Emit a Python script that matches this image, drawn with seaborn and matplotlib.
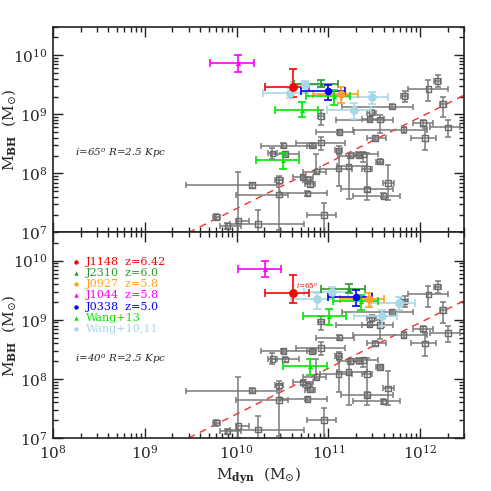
import numpy as np
import matplotlib
matplotlib.use("Agg")
import matplotlib.pyplot as plt
import seaborn as sns
from matplotlib.ticker import LogLocator, LogFormatterMathtext, NullFormatter

# local galaxies: log10 Mdyn, log10 MBH and errors (dex, minus / plus)
gray_lx = [12.19, 12.09, 12.25, 11.83, 11.69, 11.47, 10.92, 11.45, 11.56, 12.03,
           12.30, 11.82, 11.12, 11.51, 12.05, 10.92, 10.51, 10.82, 11.11, 10.39,
           10.53, 11.38, 11.24, 11.33, 11.56, 11.22, 11.11, 11.42, 10.87, 11.65,
           11.42, 11.60, 10.72, 10.77, 10.80, 10.46, 10.46, 10.77, 10.17, 10.95,
           10.23, 9.78, 9.90, 10.02]
gray_ly = [9.56, 9.43, 9.17, 9.31, 9.13, 9.03, 8.97, 8.92, 8.91, 8.85,
           8.78, 8.74, 8.70, 8.60, 8.60, 8.52, 8.47, 8.47, 8.39, 8.34,
           8.33, 8.32, 8.30, 8.31, 8.20, 8.12, 8.08, 8.08, 8.03, 7.84,
           7.73, 7.62, 7.94, 7.89, 7.82, 7.89, 7.64, 7.66, 7.80, 7.30,
           7.14, 7.26, 7.11, 7.20]
gray_xm = [0.04, 0.22, 0.03, 0.04, 0.54, 0.05, 0.03, 0.08, 0.48, 0.11,
           0.19, 0.55, 0.26, 0.09, 0.15, 0.27, 0.24, 0.05, 0.04, 0.05,
           0.15, 0.08, 0.14, 0.05, 0.04, 0.13, 0.20, 0.05, 0.15, 0.06,
           0.28, 0.33, 0.11, 0.05, 0.05, 0.04, 0.47, 0.30, 0.72, 0.18,
           0.30, 0.04, 0.08, 0.03]
gray_xp = [0.04, 0.21, 0.03, 0.04, 0.23, 0.05, 0.03, 0.16, 0.14, 0.11,
           0.13, 0.25, 0.16, 0.12, 0.12, 0.26, 0.32, 0.05, 0.04, 0.05,
           0.15, 0.16, 0.14, 0.05, 0.04, 0.20, 0.15, 0.05, 0.10, 0.06,
           0.28, 0.18, 0.11, 0.05, 0.05, 0.04, 0.10, 0.22, 0.27, 0.13,
           0.50, 0.04, 0.15, 0.12]
gray_ym = [0.10, 0.21, 0.22, 0.10, 0.04, 0.05, 0.15, 0.04, 0.23, 0.05,
           0.16, 0.05, 0.04, 0.04, 0.21, 0.12, 0.04, 0.04, 0.07, 0.09,
           0.04, 0.12, 0.04, 0.05, 0.04, 0.56, 0.30, 0.53, 0.04, 0.29,
           0.04, 0.04, 0.04, 0.05, 0.05, 0.07, 0.60, 0.04, 0.04, 0.31,
           0.16, 0.05, 0.05, 0.20]
gray_yp = [0.10, 0.15, 0.13, 0.09, 0.04, 0.05, 0.10, 0.04, 0.08, 0.05,
           0.12, 0.05, 0.04, 0.04, 0.17, 0.10, 0.04, 0.04, 0.07, 0.09,
           0.04, 0.04, 0.04, 0.05, 0.04, 0.17, 0.29, 0.27, 0.30, 0.30,
           0.04, 0.04, 0.04, 0.05, 0.05, 0.07, 0.25, 0.04, 0.04, 0.20,
           0.24, 0.05, 0.05, 0.83]

# high-z quasars
src_names = ["J1148", "J2310", "J0927", "J1044", "J0338", "Wang+13", "Wang+10,11"]
src_labels = ["J1148  z=6.42", "J2310  z=6.0", "J0927  z=5.8", "J1044  z=5.8",
              "J0338  z=5.0", "Wang+13", "Wang+10,11"]
src_colors = ["#ff0000", "#2a9a2a", "#ffa020", "#ff00ff", "#0000ff", "#00e600", "#a8d8e8"]
src_markers = ["o", "^", "o", "^", "o", "^", "o"]
src_sizes = [40, 14, 34, 14, 30, 14, 40]

qso_src = ["Wang+10,11", "Wang+10,11", "Wang+10,11", "Wang+10,11",
           "J1148", "J2310", "J0927", "J1044", "J0338",
           "Wang+13", "Wang+13", "Wang+13"]

# i = 65 deg
top_lx = [10.58, 10.74, 11.47, 11.28, 10.615, 10.92, 11.14, 10.01, 11.00, 11.06, 10.71, 10.51]
top_ly = [9.36, 9.50, 9.29, 9.08, 9.47, 9.52, 9.35, 9.86, 9.39, 9.31, 9.08, 8.23]
top_xm = [0.29, 0.15, 0.32, 0.30, 0.305, 0.29, 0.31, 0.30, 0.30, 0.30, 0.29, 0.30]
top_xp = [0.20, 0.15, 0.18, 0.18, 0.175, 0.18, 0.18, 0.18, 0.18, 0.175, 0.18, 0.17]
top_ym = [0.08, 0.05, 0.11, 0.16, 0.18, 0.06, 0.16, 0.14, 0.14, 0.15, 0.13, 0.16]
top_yp = [0.09, 0.06, 0.08, 0.11, 0.30, 0.06, 0.11, 0.15, 0.10, 0.10, 0.12, 0.11]

# i = 40 deg
bot_lx = [11.035, 10.88, 11.77, 11.58, 10.615, 11.22, 11.44, 10.31, 11.30, 11.36, 11.01, 10.80]
bot_ly = [9.47, 9.35, 9.28, 9.07, 9.46, 9.52, 9.35, 9.86, 9.39, 9.31, 9.07, 8.22]
bot_xm = [0.30, 0.29, 0.31, 0.30, 0.305, 0.30, 0.31, 0.30, 0.30, 0.31, 0.29, 0.29]
bot_xp = [0.18, 0.18, 0.17, 0.17, 0.175, 0.18, 0.17, 0.17, 0.17, 0.18, 0.18, 0.18]
bot_ym = [0.07, 0.17, 0.12, 0.18, 0.17, 0.06, 0.14, 0.14, 0.15, 0.14, 0.15, 0.15]
bot_yp = [0.08, 0.11, 0.11, 0.10, 0.30, 0.08, 0.10, 0.14, 0.11, 0.11, 0.11, 0.11]

# local relation (red dashed)
rel_x = [3e9, 3e12]
rel_y = [1e7, 2.1e9]

sns.set_theme(style="ticks")
plt.rcParams["font.family"] = ["DejaVu Serif"]
plt.rcParams["mathtext.fontset"] = "dejavuserif"


def errs(v, m, p):
    v, m, p = np.array(v), np.array(m), np.array(p)
    return [10**v - 10**(v - m), 10**(v + p) - 10**v]


def draw_panel(ax, lx, ly, xm, xp, ym, yp, note):
    ax.set_xscale("log")
    ax.set_yscale("log")
    ax.set_xlim(1e8, 3e12)
    ax.set_ylim(1e7, 3e10)

    sns.lineplot(x=rel_x, y=rel_y, ax=ax, color="#ff2a2a", lw=1.0,
                 linestyle=(0, (5, 4)), zorder=1)

    gx, gy = 10**np.array(gray_lx), 10**np.array(gray_ly)
    ax.errorbar(gx, gy, xerr=errs(gray_lx, gray_xm, gray_xp),
                yerr=errs(gray_ly, gray_ym, gray_yp), fmt="none",
                ecolor="#7a7a7a", elinewidth=1.1, capsize=2.5, capthick=1.1, zorder=2)
    sns.scatterplot(x=gx, y=gy, ax=ax, marker="s", s=16, fc="none",
                    ec="#6a6a6a", linewidth=1.0, zorder=3)

    lx, ly = np.array(lx), np.array(ly)
    src = np.array(qso_src)
    xe = errs(lx, xm, xp)
    ye = errs(ly, ym, yp)
    for k in ["Wang+10,11", "J1148", "J2310", "J0927", "J1044", "J0338", "Wang+13"]:
        i = src_names.index(k)
        sel = src == k
        px, py = 10**lx[sel], 10**ly[sel]
        ax.errorbar(px, py, xerr=[xe[0][sel], xe[1][sel]], yerr=[ye[0][sel], ye[1][sel]],
                    fmt="none", ecolor=src_colors[i], elinewidth=1.2, capsize=3,
                    capthick=1.2, zorder=4)
        sns.scatterplot(x=px, y=py, ax=ax, marker=src_markers[i], s=src_sizes[i],
                        color=src_colors[i], linewidth=0, zorder=5)

    ax.text(0.054, 0.385, note, transform=ax.transAxes, fontsize=7.5,
            style="italic", va="center", ha="left")

    ax.xaxis.set_major_locator(LogLocator(base=10, numticks=10))
    ax.xaxis.set_minor_locator(LogLocator(base=10, subs=np.arange(2, 10), numticks=20))
    ax.yaxis.set_major_locator(LogLocator(base=10, numticks=10))
    ax.yaxis.set_minor_locator(LogLocator(base=10, subs=np.arange(2, 10), numticks=20))
    ax.yaxis.set_major_formatter(LogFormatterMathtext())
    ax.xaxis.set_major_formatter(LogFormatterMathtext())
    ax.tick_params(which="both", direction="in", top=True, right=True,
                   labelsize=11, width=1.0, color="#222222", pad=4)
    ax.tick_params(which="major", length=7)
    ax.tick_params(which="minor", length=3.5)
    for s in ax.spines.values():
        s.set_linewidth(1.2)
        s.set_color("#222222")
    ax.set_ylabel(r"$\mathrm{M}_{\mathbf{BH}}\ \ (\mathrm{M}_{\odot})$", fontsize=11)
    ax.yaxis.set_label_coords(-0.085, 0.5)


fig = plt.figure(figsize=(4.91, 4.91), dpi=100)
ax_top = fig.add_axes([0.108, 0.5265, 0.837, 0.4185])
ax_bot = fig.add_axes([0.108, 0.108, 0.837, 0.4185])

draw_panel(ax_top, top_lx, top_ly, top_xm, top_xp, top_ym, top_yp,
           r"$i$=65$^o$ $R$=2.5 $Kpc$")
draw_panel(ax_bot, bot_lx, bot_ly, bot_xm, bot_xp, bot_ym, bot_yp,
           r"$i$=40$^o$ $R$=2.5 $Kpc$")

ax_top.xaxis.set_major_formatter(NullFormatter())
ax_top.set_xlabel("")
ax_bot.set_xlabel(r"$\mathrm{M}_{\mathbf{dyn}}\ \ (\mathrm{M}_{\odot})$", fontsize=11)
ax_bot.xaxis.set_label_coords(0.5, -0.135)

# legend as coloured text
for i, lab in enumerate(src_labels):
    yy = 0.857 - i * 0.0545
    ax_bot.scatter([0.056], [yy], transform=ax_bot.transAxes, marker=src_markers[i],
                   s=10, color=src_colors[i], linewidth=0)
    ax_bot.text(0.080, yy, lab, transform=ax_bot.transAxes, color=src_colors[i],
                fontsize=8, va="center", ha="left")

ax_bot.text(10**10.65, 10**9.565, r"$i$=65$^o$", color="#ff0000", fontsize=5,
            va="center", ha="left")

fig.savefig("out.png", dpi=100)
